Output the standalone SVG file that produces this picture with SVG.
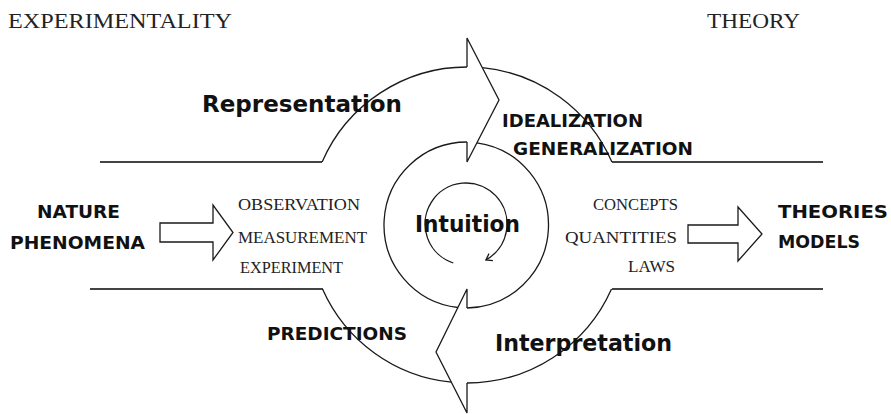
<svg xmlns="http://www.w3.org/2000/svg" width="891" height="414" viewBox="0 0 891 414">
<style>
.hdr{font-family:"Liberation Serif","DejaVu Serif",serif;font-size:21px;fill:#222}
.ser{font-family:"Liberation Serif","DejaVu Serif",serif;font-size:17px;fill:#222}
.cap{font-family:"DejaVu Sans","Liberation Sans",sans-serif;font-weight:bold;font-size:17px;fill:#111}
.big{font-family:"DejaVu Sans","Liberation Sans",sans-serif;font-weight:bold;font-size:23px;fill:#111}
.arc{fill:none;stroke:#1a1a1a;stroke-width:1.3}
.hl{fill:none;stroke:#444;stroke-width:2.2}
.blk{fill:#fff;stroke:#1a1a1a;stroke-width:1.3;stroke-linejoin:miter}
</style>
<rect width="891" height="414" fill="#fff"/>
<g id="connectors">
<line class="hl" x1="100" y1="162" x2="322" y2="162"/>
<line class="hl" x1="612" y1="162" x2="823" y2="162"/>
<line class="hl" x1="90" y1="289" x2="323" y2="289"/>
<line class="hl" x1="612" y1="289" x2="823" y2="289"/>
<path class="arc" d="M322.1,162 A158,158 0 0,1 467,67"/>
<path class="arc" d="M482.4,67.7 A158,158 0 0,1 611.9,162"/>
<path class="arc" d="M611.5,289 A158,158 0 0,1 467,383"/>
<path class="arc" d="M451.3,382.2 A158,158 0 0,1 322.5,289"/>
<path class="arc" d="M476.9,142.8 A83,83 0 0,1 467,308"/>
<path class="arc" d="M457.9,307.5 A83,83 0 0,1 467,142"/>
<path class="arc" d="M467,67 L467,38 L499,100 L467,162 L467,142"/>
<path class="arc" d="M467,308 L467,289 L436,352 L467,413 L467,383"/>
<path class="arc" d="M453.3,263 A41,41 0 1,1 485.9,259.9"/>
<path class="arc" d="M489,253.6 L485.9,259.9 L492.9,260.6"/>
<path class="blk" d="M160,223 L213,223 L213,205 L233,232.5 L213,260 L213,242 L160,242 Z"/>
<path class="blk" d="M688,225 L738,225 L738,207 L762,234 L738,261 L738,243 L688,243 Z"/>
</g>
<g id="experimentality"><text class="hdr" x="8" y="28" textLength="224" lengthAdjust="spacingAndGlyphs">EXPERIMENTALITY</text></g>
<g id="theory"><text class="hdr" x="707" y="28" textLength="93" lengthAdjust="spacingAndGlyphs">THEORY</text></g>
<g id="representation"><text class="big" x="202" y="112" textLength="200" lengthAdjust="spacingAndGlyphs">Representation</text></g>
<g id="idealization">
<text class="cap" x="502" y="127" textLength="141" lengthAdjust="spacingAndGlyphs">IDEALIZATION</text>
<text class="cap" x="513" y="155" textLength="180" lengthAdjust="spacingAndGlyphs">GENERALIZATION</text>
</g>
<g id="nature">
<text class="cap" x="37" y="218" textLength="83" lengthAdjust="spacingAndGlyphs">NATURE</text>
<text class="cap" x="10" y="249" textLength="135" lengthAdjust="spacingAndGlyphs">PHENOMENA</text>
</g>
<g id="observation">
<text class="ser" x="238" y="210" textLength="122" lengthAdjust="spacingAndGlyphs">OBSERVATION</text>
<text class="ser" x="238" y="243" textLength="129" lengthAdjust="spacingAndGlyphs">MEASUREMENT</text>
<text class="ser" x="240" y="273" textLength="103" lengthAdjust="spacingAndGlyphs">EXPERIMENT</text>
</g>
<g id="intuition"><text class="big" x="415" y="232" textLength="105" lengthAdjust="spacingAndGlyphs">Intuition</text></g>
<g id="concepts">
<text class="ser" x="593" y="210" textLength="85" lengthAdjust="spacingAndGlyphs">CONCEPTS</text>
<text class="ser" x="565" y="243" textLength="112" lengthAdjust="spacingAndGlyphs">QUANTITIES</text>
<text class="ser" x="628" y="272" textLength="47" lengthAdjust="spacingAndGlyphs">LAWS</text>
</g>
<g id="theories">
<text class="cap" x="778" y="218" textLength="110" lengthAdjust="spacingAndGlyphs">THEORIES</text>
<text class="cap" x="778" y="248" textLength="82" lengthAdjust="spacingAndGlyphs">MODELS</text>
</g>
<g id="predictions"><text class="cap" x="267" y="340" textLength="140" lengthAdjust="spacingAndGlyphs">PREDICTIONS</text></g>
<g id="interpretation"><text class="big" x="495" y="351" textLength="177" lengthAdjust="spacingAndGlyphs">Interpretation</text></g>
</svg>
